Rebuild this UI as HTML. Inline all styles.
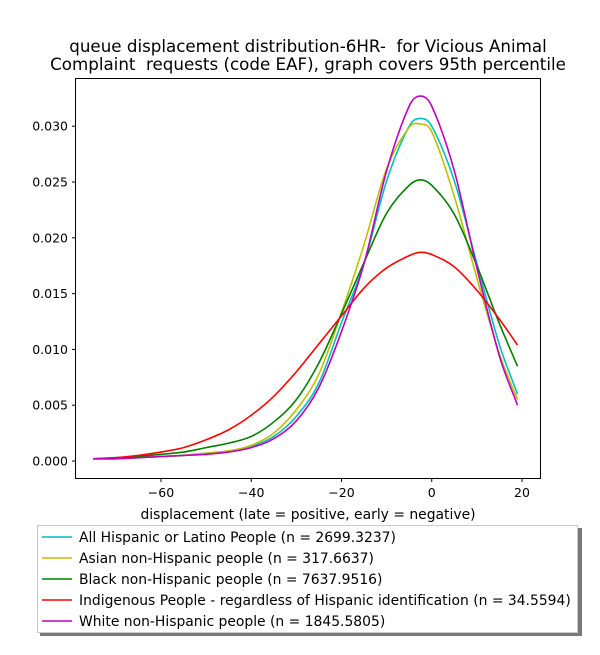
<!DOCTYPE html>
<html><head><meta charset="utf-8"><style>
body{margin:0;background:#fff;}
svg{font-family:"DejaVu Sans","Liberation Sans",sans-serif;}
text{white-space:pre;}
</style></head><body>
<svg id="chart" width="600" height="650" xmlns="http://www.w3.org/2000/svg">
<rect width="600" height="650" fill="#fff"/>
<text x="308" y="52" font-size="16.7" text-anchor="middle" xml:space="preserve">queue displacement distribution-6HR-  for Vicious Animal</text>
<text x="308" y="70" font-size="16.7" text-anchor="middle" xml:space="preserve">Complaint  requests (code EAF), graph covers 95th percentile</text>
<g id="plot"></g>
<rect x="75.5" y="78.5" width="465" height="400" fill="none" stroke="#000" stroke-width="1"/>
<text x="308" y="519" font-size="13.9" text-anchor="middle">displacement (late = positive, early = negative)</text>
<g id="legend"></g>
</svg>
<script>
const xs=[-75,-70,-65,-60,-55,-50,-45,-40,-35,-30,-25,-20,-15,-10,-5,-2.5,0,5,10,15,19];
const cyanVals=[.0002,.0002,.0003,.0004,.0005,.0007,.0009,.0013,.0022,.004,.007,.0124,.0177,.0251,.0300,.0307,.0300,.0251,.0177,.0104,.006];
const yellowVals=[.0002,.0002,.0003,.0004,.0005,.0007,.0009,.0014,.0025,.0046,.0078,.0133,.0194,.0262,.0299,.0302,.0295,.0237,.0164,.0096,.0055];
const greenVals=[.0002,.0003,.0004,.0006,.0008,.0012,.0016,.0022,.0035,.0055,.0088,.0132,.0178,.0222,.0247,.0252,.0247,.0221,.0175,.0123,.0085];
const redVals=[.0002,.0003,.0005,.0008,.0012,.0019,.0028,.0041,.0058,.0080,.0105,.0130,.0155,.0173,.0184,.0187,.0185,.0174,.0153,.0127,.0104];
const magentaVals=[.0002,.0002,.0003,.0004,.0005,.0006,.0008,.0012,.002,.0036,.0066,.0116,.0177,.026,.0318,.0327,.0318,.026,.0173,.0094,.005];
const seriesNames=["All Hispanic or Latino People (n = 2699.3237)","Asian non-Hispanic people (n = 317.6637)","Black non-Hispanic people (n = 7637.9516)","Indigenous People - regardless of Hispanic identification (n = 34.5594)","White non-Hispanic people (n = 1845.5805)"];
const xTicks=[-60,-40,-20,0,20];
const yTicks=[0,0.005,0.01,0.015,0.02,0.025,0.03];
const yTickLabels=["0.000","0.005","0.010","0.015","0.020","0.025","0.030"];

const NS="http://www.w3.org/2000/svg";
const X=v=>431.75+v*4.5125;
const Y=v=>461-v*11160;
const plot=document.getElementById('plot');
const legend=document.getElementById('legend');
function mk(t,a,p){const e=document.createElementNS(NS,t);for(const k in a)e.setAttribute(k,a[k]);p.appendChild(e);return e;}
xTicks.forEach(t=>{
  const g=mk('g',{},plot);
  
  
  mk('line',{x1:X(t),x2:X(t),y1:478.5,y2:482,stroke:'#000'},g);
  const tx=mk('text',{x:X(t),y:497,'font-size':12.5,'text-anchor':'middle'},g);
  tx.textContent=(t<0?'\u2212'+(-t):t);
});
yTicks.forEach((t,i)=>{
  const g=mk('g',{},plot);
  
  
  mk('line',{x1:72,x2:75.5,y1:Y(t),y2:Y(t),stroke:'#000'},g);
  const tx=mk('text',{x:68,y:Y(t)+4.5,'font-size':12.5,'text-anchor':'end'},g);
  tx.textContent=yTickLabels[i];
});
function pathFor(vals){
  const n=xs.length, m=[];
  for(let i=0;i<n;i++){
    const a=Math.max(0,i-1), b=Math.min(n-1,i+1);
    m.push((vals[b]-vals[a])/(xs[b]-xs[a]));
  }
  let d='M'+X(xs[0])+','+Y(vals[0]);
  for(let i=0;i<n-1;i++){
    const h=(xs[i+1]-xs[i])/3;
    d+=' C'+X(xs[i]+h)+','+Y(vals[i]+m[i]*h)+' '+X(xs[i+1]-h)+','+Y(vals[i+1]-m[i+1]*h)+' '+X(xs[i+1])+','+Y(vals[i+1]);
  }
  return d;
}
const all=[cyanVals,yellowVals,greenVals,redVals,magentaVals];
const colors=['#00bfbf','#bfbf00','#008000','#ff0000','#bf00bf'];
const keys=['hispanic','asian','black','indigenous','white'];
all.forEach((v,i)=>{
  const e=mk('path',{d:pathFor(v),fill:'none',stroke:colors[i],'stroke-width':1.6},plot);
  
  
});
mk('rect',{x:40,y:528,width:542,height:108,fill:'#555',opacity:0.8},legend);
mk('rect',{x:37.5,y:525.5,width:540,height:107,fill:'#fff',stroke:'#ccc'},legend);
seriesNames.forEach((n,i)=>{
  const g=mk('g',{},legend);
  
  
  const y=537+i*21;
  mk('line',{x1:42,x2:72,y1:y,y2:y,stroke:colors[i],'stroke-width':1.6},g);
  const t=mk('text',{x:79,y:y+5,'font-size':13.9},g);
  t.textContent=n;
});
</script>
</body></html>
